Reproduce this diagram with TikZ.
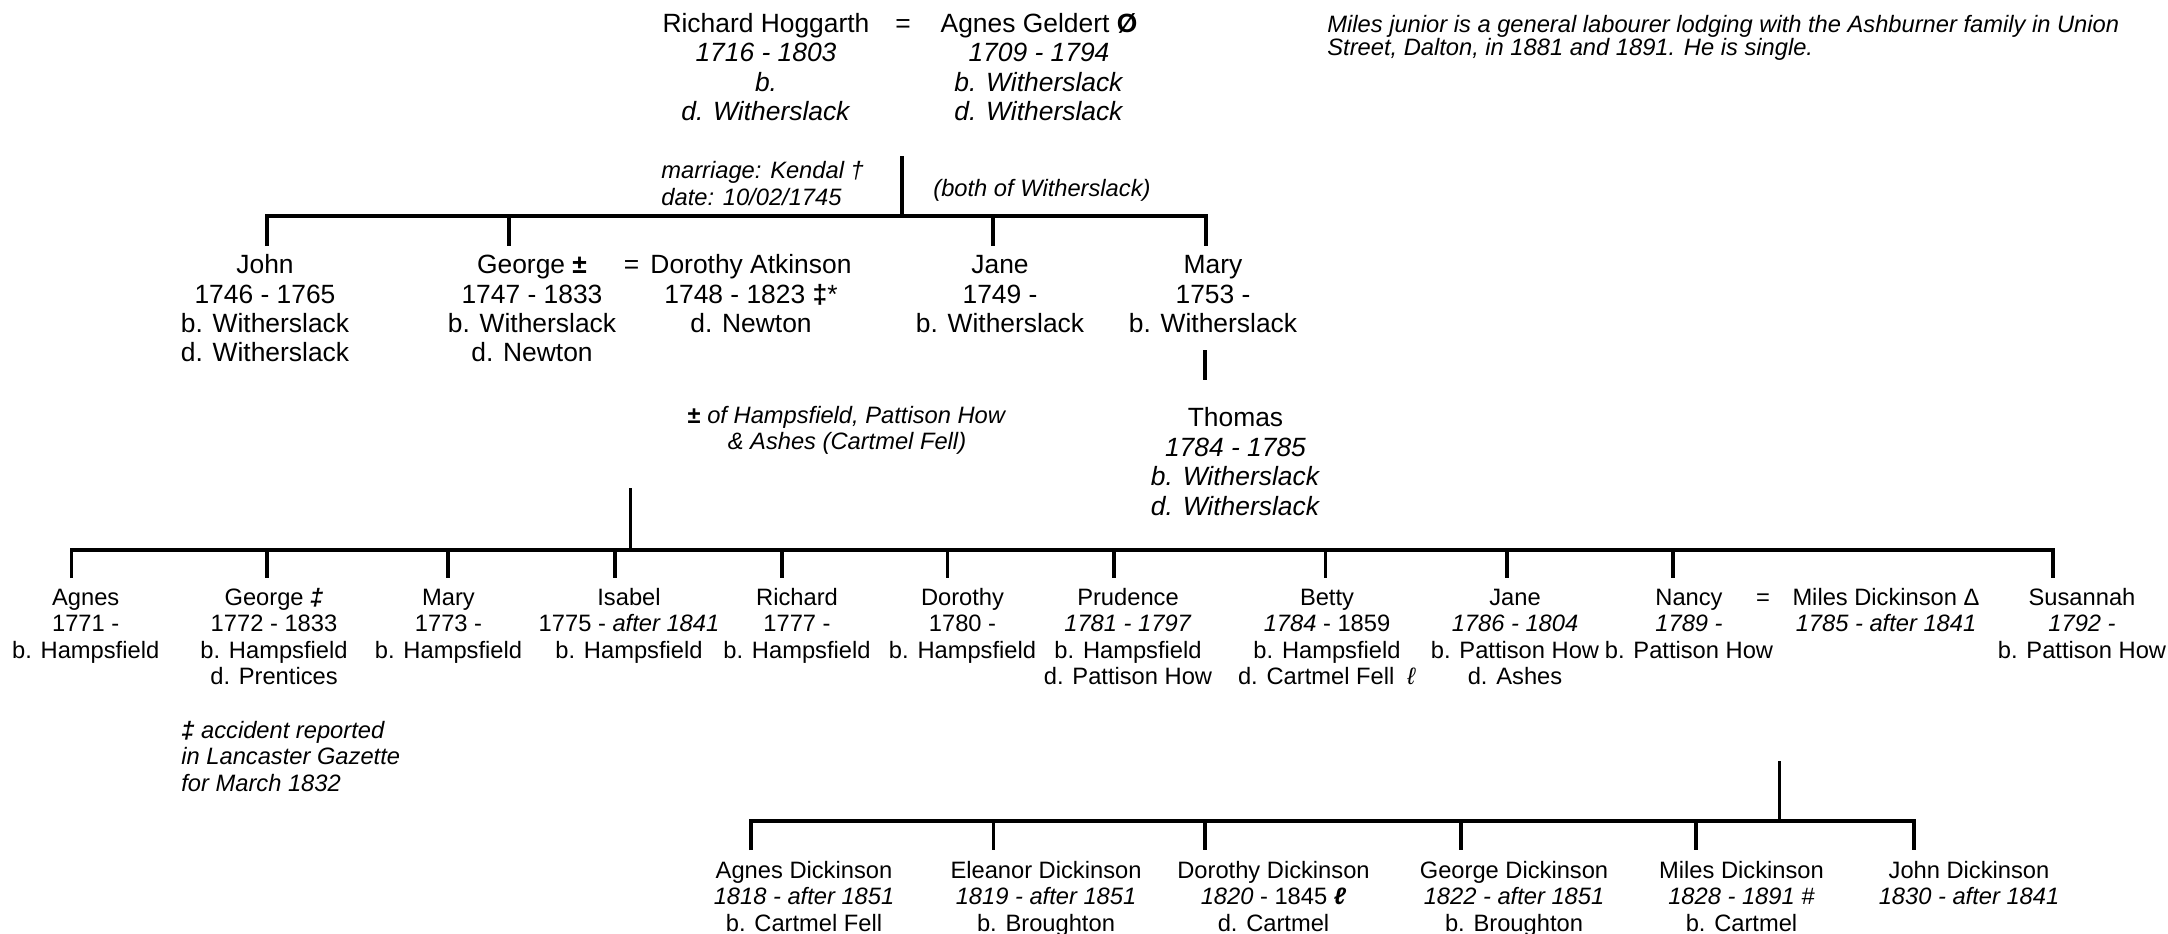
\documentclass[tikz,border=0pt]{standalone}
\usepackage{fontspec}
\setmainfont{Liberation Sans}
\begin{document}
\begin{tikzpicture}[x=0.5pt,y=-0.5pt,
  big/.style={font=\fontsize{13.2}{14.7}\selectfont, inner sep=0pt, align=center, anchor=north},
  small/.style={font=\fontsize{11.85}{13.15}\selectfont, inner sep=0pt, align=center, anchor=north},
  notel/.style={font=\fontsize{11.85}{13.15}\selectfont\itshape, inner sep=0pt, align=left, anchor=north west},
  topnote/.style={font=\fontsize{11.85}{11.5}\selectfont\itshape, inner sep=0pt, align=left, anchor=north west},
  link/.style={line width=1.6pt, line join=miter}]
\useasboundingbox (0,0) rectangle (2168,933);

% ---------- generation 1 ----------
\node[big] (richard) at (766,11.4) {\strut Richard Hoggarth\\\textit{1716 - 1803}\\\textit{b.}\\\textit{d. Witherslack}};
\node[big] (eqA) at (903,11.4) {\strut =};
\node[big] (agnesG) at (1039,11.4) {\strut Agnes Geldert \textbf{Ø}\\\textit{1709 - 1794}\\\textit{b. Witherslack}\\\textit{d. Witherslack}};
\node[notel] (marr) at (661,160) {\strut marriage: Kendal †\\date: 10/02/1745};
\node[notel] (both) at (933,178) {\strut (both of Witherslack)};
\node[topnote] (milesnote) at (1327,15) {Miles junior is a general labourer lodging with the Ashburner family in Union\\Street, Dalton, in 1881 and 1891. He is single.};

\coordinate (m1t) at (902,156);
\coordinate (m1b) at (902,216);
\coordinate (b1L) at (267,216);
\coordinate (b1R) at (1206,216);
\coordinate (d1john) at (267,246);
\coordinate (d1george) at (509,246);
\coordinate (d1jane) at (993,246);
\coordinate (d1mary) at (1206,246);
\draw[link] (m1t) -- (m1b);
\draw[link] (d1john) -- (b1L) -- (b1R) -- (d1mary);
\draw[link] (d1george |- b1L) -- (d1george);
\draw[link] (d1jane |- b1L) -- (d1jane);

% ---------- generation 2 ----------
\node[big] (john) at (265,252.8) {\strut John\\1746 - 1765\\b. Witherslack\\d. Witherslack};
\node[big] (george) at (532,252.8) {\strut George \textbf{±}\\1747 - 1833\\b. Witherslack\\d. Newton};
\node[big] (eqB) at (631.5,252.8) {\strut =};
\node[big] (dorothyA) at (751,252.8) {\strut Dorothy Atkinson\\1748 - 1823 \textbf{‡}*\\d. Newton};
\node[big] (jane1) at (1000,252.8) {\strut Jane\\1749 -\\b. Witherslack};
\node[big] (mary1) at (1213,252.8) {\strut Mary\\1753 -\\b. Witherslack};

\coordinate (maryA) at (1205,350);
\coordinate (maryB) at (1205,380);
\draw[link] (maryA) -- (maryB);
\node[big] (thomas) at (1235.5,406) {\strut Thomas\\\textit{1784 - 1785}\\\textit{b. Witherslack}\\\textit{d. Witherslack}};

\node[small] (hampnote) at (847,404.6) {\strut\textbf{±} \textit{of Hampsfield, Pattison How}\\\textit{\& Ashes (Cartmel Fell)}};

\coordinate (m2t) at (630.5,488);
\coordinate (m2b) at (630.5,550);
\coordinate (b2L) at (71.5,550);
\coordinate (b2R) at (2053,550);
\coordinate (d2agnes) at (71.5,578);
\coordinate (d2george) at (267,578);
\coordinate (d2mary) at (448,578);
\coordinate (d2isabel) at (615,578);
\coordinate (d2richard) at (782,578);
\coordinate (d2dorothy) at (947.5,578);
\coordinate (d2prudence) at (1114,578);
\coordinate (d2betty) at (1325.5,578);
\coordinate (d2jane) at (1507,578);
\coordinate (d2nancy) at (1673,578);
\coordinate (d2susannah) at (2053,578);
\draw[link] (m2t) -- (m2b);
\draw[link] (d2agnes) -- (b2L) -- (b2R) -- (d2susannah);
\foreach \c in {d2george,d2mary,d2isabel,d2richard,d2dorothy,d2prudence,d2betty,d2jane,d2nancy}
  \draw[link] (\c |- b2L) -- (\c);

% ---------- generation 3 ----------
\node[small] (agnes3) at (85.7,586.6) {\strut Agnes\\1771 -\\b. Hampsfield};
\node[small] (george3) at (274,586.6) {\strut George \textbf{\textit{‡}}\\1772 - 1833\\b. Hampsfield\\d. Prentices};
\node[small] (mary3) at (448.5,586.6) {\strut Mary\\1773 -\\b. Hampsfield};
\node[small] (isabel3) at (629,586.6) {\strut Isabel\\1775 - \textit{after 1841}\\b. Hampsfield};
\node[small] (richard3) at (797,586.6) {\strut Richard\\1777 -\\b. Hampsfield};
\node[small] (dorothy3) at (962.5,586.6) {\strut Dorothy\\1780 -\\b. Hampsfield};
\node[small] (prudence3) at (1128,586.6) {\strut Prudence\\\textit{1781 - 1797}\\b. Hampsfield\\d. Pattison How};
\node[small] (betty3) at (1327,586.6) {\strut Betty\\\textit{1784} - 1859\\b. Hampsfield\\d. Cartmel Fell\ \ \textit{ℓ}};
\node[small] (jane3) at (1515,586.6) {\strut Jane\\\textit{1786 - 1804}\\b. Pattison How\\d. Ashes};
\node[small] (nancy3) at (1689,586.6) {\strut Nancy\\\textit{1789 -}\\b. Pattison How};
\node[small] (eqC) at (1763,586.6) {\strut =};
\node[small] (milesD) at (1886,586.6) {\strut Miles Dickinson Δ\\\textit{1785 - after 1841}};
\node[small] (susannah3) at (2082,586.6) {\strut Susannah\\\textit{1792 -}\\b. Pattison How};

\node[notel] (accnote) at (181,719.6) {\strut\textbf{‡} accident reported\\in Lancaster Gazette\\for March 1832};

\coordinate (m3t) at (1779.5,761);
\coordinate (m3b) at (1779.5,821);
\coordinate (b3L) at (751,821);
\coordinate (b3R) at (1914,821);
\coordinate (d3agnes) at (751,850);
\coordinate (d3eleanor) at (993.4,850);
\coordinate (d3dorothy) at (1205,850);
\coordinate (d3george) at (1461,850);
\coordinate (d3miles) at (1696,850);
\coordinate (d3john) at (1914,850);
\draw[link] (m3t) -- (m3b);
\draw[link] (d3agnes) -- (b3L) -- (b3R) -- (d3john);
\foreach \c in {d3eleanor,d3dorothy,d3george,d3miles}
  \draw[link] (\c |- b3L) -- (\c);

% ---------- generation 4 ----------
\node[small] (agnes4) at (804,859.6) {\strut Agnes Dickinson\\\textit{1818 - after 1851}\\b. Cartmel Fell};
\node[small] (eleanor4) at (1046,859.6) {\strut Eleanor Dickinson\\\textit{1819 - after 1851}\\b. Broughton};
\node[small] (dorothy4) at (1273.5,859.6) {\strut Dorothy Dickinson\\\textit{1820} - 1845 \textbf{\textit{ℓ}}\\d. Cartmel};
\node[small] (george4) at (1514,859.6) {\strut George Dickinson\\\textit{1822 - after 1851}\\b. Broughton};
\node[small] (miles4) at (1741.5,859.6) {\strut Miles Dickinson\\\textit{1828 - 1891 \#}\\b. Cartmel};
\node[small] (john4) at (1969,859.6) {\strut John Dickinson\\\textit{1830 - after 1841}};
\end{tikzpicture}
\end{document}
